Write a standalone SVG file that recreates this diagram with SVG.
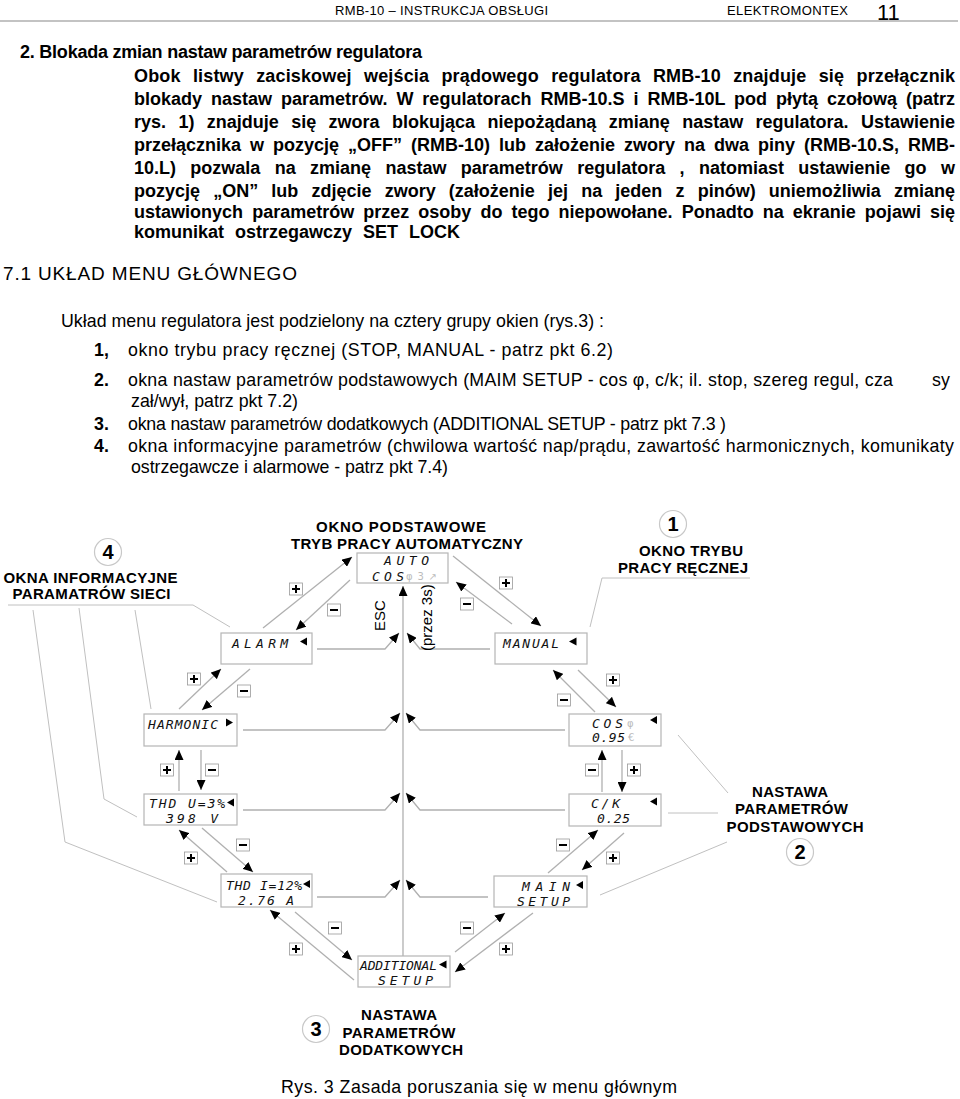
<svg xmlns="http://www.w3.org/2000/svg" width="960" height="1099" viewBox="0 0 960 1099">
<style>
.t{font-family:"Liberation Sans",Arial,sans-serif;fill:#000}
.b{font-weight:bold}
.p{font-family:"Liberation Sans",Arial,sans-serif;font-size:18px;font-weight:bold}
.r{font-family:"Liberation Sans",Arial,sans-serif;font-size:17.8px}
.lab{font-family:"Liberation Sans",Arial,sans-serif;font-weight:bold;font-size:15px;text-anchor:middle}
.lcd{font-family:"DejaVu Sans Mono",monospace;font-style:oblique;font-size:13px;fill:#111}
.gr{font-family:"DejaVu Sans",sans-serif;font-size:10px;fill:#bbb}
.box{fill:#fff;stroke:#b5b5b5;stroke-width:1.2}
.con{fill:none;stroke:#b0b0b0;stroke-width:1.3}
.ann{fill:none;stroke:#c0c0c0;stroke-width:1}
.tri{fill:#000}
.circ{fill:#fff;stroke:#c8c8c8;stroke-width:1.2}
.num{font-family:"Liberation Sans",Arial,sans-serif;font-weight:bold;font-size:20px;text-anchor:middle}
</style>
<defs>
<marker id="ah" markerUnits="userSpaceOnUse" markerWidth="10" markerHeight="9" refX="10" refY="4.5" orient="auto">
<path d="M0,0 L10,4.5 L0,9 z" fill="#000"/>
</marker>
<g id="plus"><rect x="-6.5" y="-6" width="13" height="12" fill="#fff" stroke="#999" stroke-width="0.8"/><path d="M-4,0 H4 M0,-4 V4" stroke="#000" stroke-width="2" fill="none"/></g>
<g id="minus"><rect x="-6.5" y="-6" width="13" height="12" fill="#fff" stroke="#999" stroke-width="0.8"/><path d="M-4,0 H4" stroke="#000" stroke-width="2" fill="none"/></g>
</defs>
<rect width="960" height="1099" fill="#fff"/>

<!-- header -->
<g id="header">
<text class="t" x="335" y="15" font-size="13" textLength="213">RMB-10 – INSTRUKCJA OBSŁUGI</text>
<text class="t" x="727" y="15" font-size="13" textLength="121">ELEKTROMONTEX</text>
<text class="t" x="877" y="20" font-size="22">11</text>
<line x1="0" y1="21" x2="958" y2="21" stroke="#888" stroke-width="1.2"/>
</g>

<!-- body text -->
<g id="body">
<text class="p" x="20" y="58" font-size="17.5" textLength="402">2. Blokada zmian nastaw parametrów regulatora</text>
<text class="p" x="134" y="82" word-spacing="7.2" textLength="821">Obok listwy zaciskowej wejścia prądowego regulatora RMB-10 znajduje się przełącznik</text>
<text class="p" x="134" y="105" word-spacing="3.9" textLength="821">blokady nastaw parametrów. W regulatorach RMB-10.S i RMB-10L pod płytą czołową (patrz</text>
<text class="p" x="134" y="128" word-spacing="7.4" textLength="821">rys. 1) znajduje się zwora blokująca niepożądaną zmianę nastaw regulatora. Ustawienie</text>
<text class="p" x="134" y="151" word-spacing="4" textLength="821">przełącznika w pozycję  „OFF” (RMB-10) lub założenie zwory na dwa piny  (RMB-10.S, RMB-</text>
<text class="p" x="134" y="174" word-spacing="9.4" textLength="821">10.L)  pozwala na zmianę nastaw parametrów regulatora ,  natomiast ustawienie go w</text>
<text class="p" x="134" y="197" word-spacing="8.2" textLength="821">pozycję  „ON” lub zdjęcie zwory (założenie jej na jeden z pinów) uniemożliwia zmianę</text>
<text class="p" x="134" y="218" word-spacing="4" textLength="821">ustawionych parametrów przez osoby do tego niepowołane.  Ponadto na ekranie pojawi się</text>
<text class="p" x="134" y="238" word-spacing="6">komunikat ostrzegawczy  SET  LOCK</text>

<text class="t" x="3" y="280" font-size="19" textLength="294">7.1 UKŁAD MENU GŁÓWNEGO</text>
<text class="r" x="61" y="327" textLength="543">Układ menu regulatora jest podzielony na cztery grupy okien (rys.3) :</text>
<text class="r b" x="94" y="356">1,</text>
<text class="r" x="128" y="356" textLength="485">okno trybu pracy ręcznej (STOP, MANUAL  -  patrz pkt 6.2)</text>
<text class="r b" x="94" y="386">2.</text>
<text class="r" x="128" y="386" textLength="765">okna nastaw parametrów podstawowych (MAIM SETUP -  cos φ, c/k; il. stop, szereg regul, cza</text>
<text class="r" x="932" y="386">sy</text>
<text class="r" x="131" y="407">zał/wył, patrz pkt 7.2)</text>
<text class="r b" x="94" y="430">3.</text>
<text class="r" x="128" y="430" textLength="598">okna nastaw parametrów dodatkowych (ADDITIONAL SETUP -  patrz pkt  7.3 )</text>
<text class="r b" x="94" y="452">4.</text>
<text class="r" x="128" y="452" textLength="826">okna informacyjne parametrów (chwilowa wartość nap/prądu, zawartość harmonicznych, komunikaty</text>
<text class="r" x="131" y="473" textLength="317">ostrzegawcze i alarmowe -  patrz pkt 7.4)</text>
</g>

<!-- connectors -->
<g id="connectors">
<line class="con" x1="403" y1="956" x2="403" y2="586" marker-end="url(#ah)" stroke-width="1.6"/>
<polyline class="con" points="317,649 385,649 399,633" marker-end="url(#ah)"/>
<polyline class="con" points="490,649 420,649 407,633" marker-end="url(#ah)"/>
<polyline class="con" points="243,730 385,730 400,713" marker-end="url(#ah)"/>
<polyline class="con" points="565,730 420,730 406,713" marker-end="url(#ah)"/>
<polyline class="con" points="243,810 385,810 400,793" marker-end="url(#ah)"/>
<polyline class="con" points="565,810 420,810 406,793" marker-end="url(#ah)"/>
<polyline class="con" points="317,897 385,897 400,880" marker-end="url(#ah)"/>
<polyline class="con" points="488,897 420,897 406,880" marker-end="url(#ah)"/>

<line class="con" x1="263" y1="628" x2="352" y2="557" marker-end="url(#ah)"/>
<line class="con" x1="350" y1="580" x2="296" y2="630" marker-end="url(#ah)"/>
<line class="con" x1="453" y1="556" x2="541" y2="626" marker-end="url(#ah)"/>
<line class="con" x1="512" y1="624" x2="456" y2="582" marker-end="url(#ah)"/>
<line class="con" x1="179" y1="709" x2="221" y2="669" marker-end="url(#ah)"/>
<line class="con" x1="250" y1="669" x2="202" y2="710" marker-end="url(#ah)"/>
<line class="con" x1="179" y1="791" x2="179" y2="750" marker-end="url(#ah)"/>
<line class="con" x1="201" y1="750" x2="201" y2="790" marker-end="url(#ah)"/>
<line class="con" x1="227" y1="872" x2="179" y2="830" marker-end="url(#ah)"/>
<line class="con" x1="202" y1="828" x2="253" y2="872" marker-end="url(#ah)"/>
<line class="con" x1="354" y1="980" x2="270" y2="910" marker-end="url(#ah)"/>
<line class="con" x1="295" y1="912" x2="352" y2="960" marker-end="url(#ah)"/>
<line class="con" x1="455" y1="952" x2="505" y2="913" marker-end="url(#ah)"/>
<line class="con" x1="533" y1="913" x2="455" y2="972" marker-end="url(#ah)"/>
<line class="con" x1="595" y1="712" x2="553" y2="670" marker-end="url(#ah)"/>
<line class="con" x1="578" y1="670" x2="616" y2="707" marker-end="url(#ah)"/>
<line class="con" x1="602" y1="792" x2="602" y2="750" marker-end="url(#ah)"/>
<line class="con" x1="622" y1="750" x2="622" y2="792" marker-end="url(#ah)"/>
<line class="con" x1="548" y1="873" x2="598" y2="830" marker-end="url(#ah)"/>
<line class="con" x1="624" y1="833" x2="582" y2="870" marker-end="url(#ah)"/>

<!-- annotation leader lines -->
<polyline class="ann" points="8,605 193,605 230,627"/>
<polyline class="ann" points="33,610 65,842 217,902"/>
<polyline class="ann" points="79,608 104,799 137,817"/>
<polyline class="ann" points="135,610 151,709"/>
<polyline class="ann" points="750,578 602,578 590,627"/>
<line class="ann" x1="678" y1="735" x2="728" y2="793"/>
<line class="ann" x1="668" y1="813" x2="718" y2="813"/>
<line class="ann" x1="727" y1="842" x2="600" y2="895"/>
</g>

<!-- +/- labels -->
<g id="pm-labels">
<use href="#plus" x="296" y="589"/>
<use href="#minus" x="334" y="610"/>
<use href="#plus" x="506" y="583"/>
<use href="#minus" x="467" y="604"/>
<use href="#plus" x="194" y="679"/>
<use href="#minus" x="244" y="691"/>
<use href="#plus" x="167" y="770"/>
<use href="#minus" x="212" y="770"/>
<use href="#plus" x="191" y="858"/>
<use href="#minus" x="243" y="845"/>
<use href="#plus" x="296" y="949"/>
<use href="#minus" x="335" y="928"/>
<use href="#minus" x="467" y="928"/>
<use href="#plus" x="506" y="949"/>
<use href="#minus" x="564" y="700"/>
<use href="#plus" x="613" y="680"/>
<use href="#minus" x="592" y="770"/>
<use href="#plus" x="634" y="770"/>
<use href="#minus" x="563" y="845"/>
<use href="#plus" x="613" y="858"/>
</g>

<text class="t" font-size="15" transform="translate(385,631) rotate(-90)">ESC</text>
<text class="t" font-size="15" transform="translate(432,651) rotate(-90)">(przez 3s)</text>

<!-- nodes -->
<g id="node-auto">
<rect class="box" x="357" y="553" width="91" height="30"/>
<text class="lcd" x="384" y="565" textLength="45">AUTO</text>
<text class="lcd" x="372" y="581" textLength="32">COS</text>
<text class="gr" x="406" y="580" textLength="31">φ3↗</text>
</g>
<g id="node-alarm">
<rect class="box" x="221" y="633" width="91" height="31"/>
<text class="lcd" x="232" y="648" textLength="56">ALARM</text>
<polygon class="tri" points="300,641.5 307,637.5 307,645.5"/>
</g>
<g id="node-manual">
<rect class="box" x="495" y="633" width="92" height="31"/>
<text class="lcd" x="503" y="648" textLength="56">MANUAL</text>
<polygon class="tri" points="569,641.5 576.5,637.5 576.5,645.5"/>
</g>
<g id="node-harmonic">
<rect class="box" x="144" y="714" width="93" height="32"/>
<text class="lcd" x="148" y="729" textLength="70">HARMONIC</text>
<polygon class="tri" points="233,722.5 226,718.5 226,726.5"/>
</g>
<g id="node-thdu">
<rect class="box" x="144" y="794" width="93" height="31"/>
<text class="lcd" x="149" y="808" textLength="76">THD  U=3%</text>
<polygon class="tri" points="227,802.5 234,798.5 234,806.5"/>
<text class="lcd" x="166" y="823" textLength="52">398 V</text>
</g>
<g id="node-thdi">
<rect class="box" x="221" y="874" width="91" height="33"/>
<text class="lcd" x="226" y="890" textLength="76">THD I=12%</text>
<polygon class="tri" points="303,884 310,880 310,888"/>
<text class="lcd" x="238" y="905" textLength="56">2.76 A</text>
</g>
<g id="node-cos">
<rect class="box" x="569" y="714" width="92" height="32"/>
<text class="lcd" x="592" y="728" textLength="31">COS</text>
<text class="gr" x="627" y="727">φ</text>
<polygon class="tri" points="650,720 657,716 657,724"/>
<text class="lcd" x="592" y="742" textLength="33">0.95</text>
<text class="gr" x="628" y="741" font-size="8">€</text>
</g>
<g id="node-ck">
<rect class="box" x="569" y="794" width="92" height="32"/>
<text class="lcd" x="591" y="808" textLength="29">C/K</text>
<polygon class="tri" points="650,801.5 657,797.5 657,805.5"/>
<text class="lcd" x="597" y="823" textLength="33">0.25</text>
</g>
<g id="node-main">
<rect class="box" x="494" y="876" width="93" height="31"/>
<text class="lcd" x="522" y="891" textLength="48">MAIN</text>
<polygon class="tri" points="576,885 583,881 583,889"/>
<text class="lcd" x="517" y="906" textLength="53">SETUP</text>
</g>
<g id="node-additional">
<rect class="box" x="358" y="956" width="92" height="31"/>
<text class="lcd" x="360" y="970" textLength="77">ADDITIONAL</text>
<polygon class="tri" points="439,964.5 446.5,960.5 446.5,968.5"/>
<text class="lcd" x="378" y="985" textLength="55">SETUP</text>
</g>

<!-- group labels -->
<g id="label-auto">
<text class="lab" x="401" y="531.5" textLength="170">OKNO  PODSTAWOWE</text>
<text class="lab" x="407" y="549" textLength="232">TRYB PRACY AUTOMATYCZNY</text>
</g>
<g id="label-4">
<circle class="circ" cx="108" cy="552" r="13.5"/>
<text class="num" x="108" y="559">4</text>
<text class="lab" x="90.5" y="583" textLength="174">OKNA INFORMACYJNE</text>
<text class="lab" x="91.5" y="599" textLength="158">PARAMATRÓW SIECI</text>
</g>
<g id="label-1">
<circle class="circ" cx="673" cy="524" r="13.5"/>
<text class="num" x="673" y="531">1</text>
<text class="lab" x="691" y="556" textLength="104">OKNO TRYBU</text>
<text class="lab" x="683" y="573" textLength="130">PRACY RĘCZNEJ</text>
</g>
<g id="label-2">
<text class="lab" x="790" y="796.5" textLength="76">NASTAWA</text>
<text class="lab" x="791.5" y="814" textLength="113">PARAMETRÓW</text>
<text class="lab" x="795" y="831.5" textLength="137">PODSTAWOWYCH</text>
<circle class="circ" cx="800" cy="852" r="13.5"/>
<text class="num" x="800" y="859">2</text>
</g>
<g id="label-3">
<circle class="circ" cx="316" cy="1029" r="13.5"/>
<text class="num" x="316" y="1036">3</text>
<text class="lab" x="399" y="1020" textLength="76">NASTAWA</text>
<text class="lab" x="399" y="1038" textLength="113">PARAMETRÓW</text>
<text class="lab" x="401" y="1055" textLength="124">DODATKOWYCH</text>
</g>
<text class="r" x="281" y="1093" textLength="396">Rys. 3  Zasada poruszania się w menu głównym</text>
</svg>
